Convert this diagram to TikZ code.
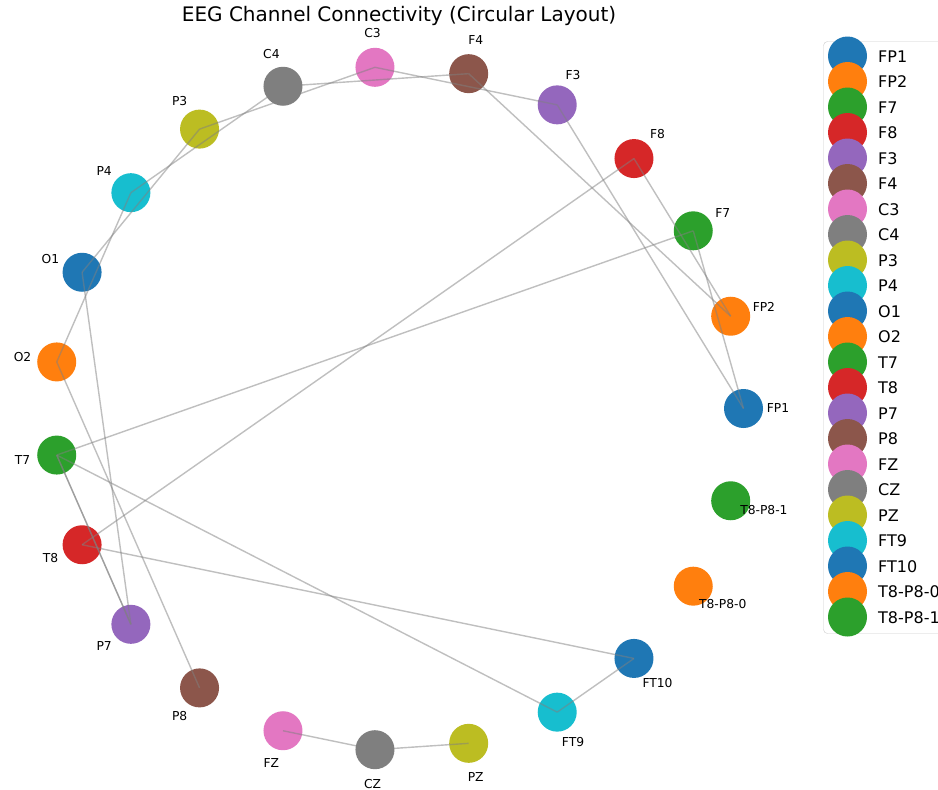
\documentclass[tikz,border=0pt]{standalone}
\usepackage{fontspec}
\setmainfont{DejaVu Sans}
\begin{document}
\begin{tikzpicture}[x=1pt,y=1pt]
\definecolor{c0}{HTML}{1F77B4}
\definecolor{c1}{HTML}{FF7F0E}
\definecolor{c2}{HTML}{2CA02C}
\definecolor{c3}{HTML}{D62728}
\definecolor{c4}{HTML}{9467BD}
\definecolor{c5}{HTML}{8C564B}
\definecolor{c6}{HTML}{E377C2}
\definecolor{c7}{HTML}{7F7F7F}
\definecolor{c8}{HTML}{BCBD22}
\definecolor{c9}{HTML}{17BECF}
\definecolor{edgegray}{HTML}{808080}
\definecolor{framegray}{HTML}{CCCCCC}
\tikzset{
  vert/.style={circle, minimum size=39pt, inner sep=0pt, draw=none},
  edge/.style={draw=edgegray, draw opacity=0.5, line width=1.4pt},
  lab/.style={font=\fontsize{12.3}{14}\selectfont, inner sep=0pt},
  legtext/.style={font=\fontsize{16}{19}\selectfont, inner sep=0pt, anchor=west},
  titletext/.style={font=\fontsize{20}{24}\selectfont, inner sep=0pt}
}
\useasboundingbox (0,0) rectangle (938,-790);
\clip (0,0) rectangle (938,-790);
\fill[white] (0,0) rectangle (938,-790);
\node[titletext] (title) at (399,-16) {EEG Channel Connectivity (Circular Layout)};
% graph nodes
\foreach \nm/\col/\txt [count=\i from 0] in {FPa/c0/FP1, FPb/c1/FP2, Fseven/c2/F7, Feight/c3/F8, Fthree/c4/F3, Ffour/c5/F4, Cthree/c6/C3, Cfour/c7/C4, Pthree/c8/P3, Pfour/c9/P4, Oone/c0/O1, Otwo/c1/O2, Tseven/c2/T7, Teight/c3/T8, Pseven/c4/P7, Peight/c5/P8, FZ/c6/FZ, CZ/c7/CZ, PZ/c8/PZ, FTnine/c9/FT9, FTten/c0/FT10, TPzero/c1/T8-P8-0, TPone/c2/T8-P8-1} {
  \pgfmathsetmacro\ang{360*\i/23}
  \node[vert, fill=\col] (\nm) at ({398.5+345*cos(\ang)},{-408.5+342*sin(\ang)}) {};
  \node[lab] (l\nm) at ({398.5+379.5*cos(\ang)},{-408.5+376*sin(\ang)}) {\txt};
}
% edges
\draw[edge] (Cfour.center) -- (Ffour.center);
\draw[edge] (Cthree.center) -- (Pthree.center);
\draw[edge] (Cthree.center) -- (Fthree.center);
\draw[edge] (Pfour.center) -- (Cfour.center);
\draw[edge] (Oone.center) -- (Pthree.center);
\draw[edge] (Otwo.center) -- (Pfour.center);
\draw[edge] (Oone.center) -- (Pseven.center);
\draw[edge] (Ffour.center) -- (FPb.center);
\draw[edge] (Fthree.center) -- (FPa.center);
\draw[edge] (Feight.center) -- (Teight.center);
\draw[edge] (Feight.center) -- (FPb.center);
\draw[edge] (Fseven.center) -- (FPa.center);
\draw[edge] (Fseven.center) -- (Tseven.center);
\draw[edge] (Tseven.center) -- (Pseven.center);
\draw[edge] (Tseven.center) -- (Pseven.center);
\draw[edge] (Tseven.center) -- (FTnine.center);
\draw[edge] (Teight.center) -- (FTten.center);
\draw[edge] (Otwo.center) -- (Peight.center);
\draw[edge] (FTnine.center) -- (FTten.center);
\draw[edge] (FZ.center) -- (CZ.center);
\draw[edge] (CZ.center) -- (PZ.center);
% legend
\draw[draw=framegray, fill=white, fill opacity=0.8, rounded corners=4pt] (823.5,-41.5) rectangle (990,-633.5);
\foreach \col/\txt [count=\i from 0] in {c0/FP1, c1/FP2, c2/F7, c3/F8, c4/F3, c5/F4, c6/C3, c7/C4, c8/P3, c9/P4, c0/O1, c1/O2, c2/T7, c3/T8, c4/P7, c5/P8, c6/FZ, c7/CZ, c8/PZ, c9/FT9, c0/FT10, c1/T8-P8-0, c2/T8-P8-1} {
  \node[vert, fill=\col] (m\i) at (847.5,{-56-25.5*\i}) {};
  \node[legtext] (g\i) at (878,{-56.5-25.5*\i}) {\txt};
}
\end{tikzpicture}
\end{document}
